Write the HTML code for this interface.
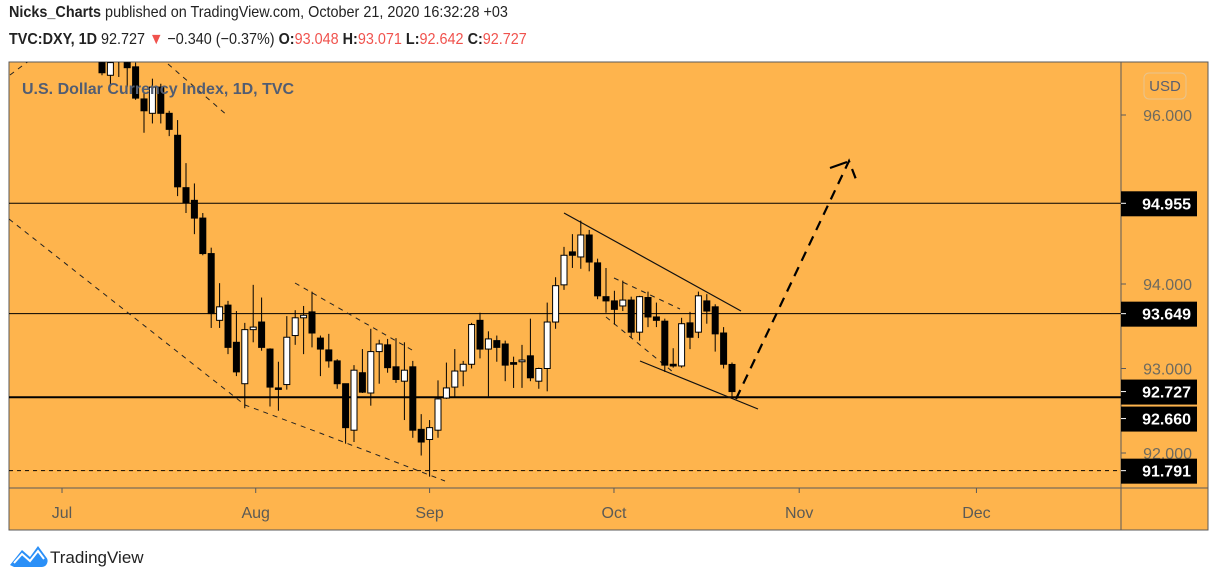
<!DOCTYPE html>
<html><head><meta charset="utf-8"><style>
body{margin:0;background:#fff;width:1218px;height:584px;overflow:hidden;font-family:"Liberation Sans",sans-serif;position:relative}
.hdr{position:absolute;left:9px;font-size:16px;color:#222;white-space:nowrap;transform:scaleX(0.9);transform-origin:0 0}
.r{color:#f0524d}
b{font-weight:bold}
</style></head><body>
<div class="hdr" style="top:4px"><b>Nicks_Charts</b> published on TradingView.com, October 21, 2020 16:32:28 +03</div>
<div class="hdr" style="top:31px"><b>TVC:DXY, 1D</b> 92.727 <span class="r">▼</span> −0.340 (−0.37%) <b>O:</b><span class="r">93.048</span> <b>H:</b><span class="r">93.071</span> <b>L:</b><span class="r">92.642</span> <b>C:</b><span class="r">92.727</span></div>
<svg id="c" width="1218" height="584" style="position:absolute;left:0;top:0"></svg>
<script>
const opens=[96.62,96.47,96.70,96.62,96.57,96.19,96.02,96.33,96.02,95.76,95.14,94.99,94.78,94.36,93.57,93.75,93.31,92.82,93.46,93.55,93.23,92.77,92.81,93.39,93.60,93.67,93.36,93.22,93.09,92.82,92.27,92.95,92.71,93.20,93.28,93.02,92.85,93.02,92.28,92.16,92.27,92.65,92.78,92.97,93.05,93.57,93.23,93.33,93.29,93.07,93.08,93.15,92.85,93.00,93.55,93.99,94.38,94.32,94.58,94.25,93.85,93.80,93.74,93.81,93.43,93.84,93.61,93.56,93.05,93.03,93.54,93.43,93.80,93.73,93.42,93.048];
const highs=[96.63,96.63,96.80,96.70,96.62,96.26,96.43,96.37,96.05,95.94,95.43,95.19,94.84,94.43,94.01,93.80,93.68,93.54,93.99,93.84,93.24,93.08,93.62,93.69,93.74,93.91,93.39,93.41,93.11,92.82,93.04,93.23,93.47,93.34,93.35,93.36,93.31,93.09,92.46,92.39,92.86,93.07,93.23,93.09,93.54,93.66,93.44,93.39,93.33,93.14,93.28,93.59,93.01,93.78,94.08,94.44,94.59,94.75,94.64,94.30,94.19,93.92,94.04,93.85,93.86,93.91,93.78,93.59,93.24,93.60,93.67,93.91,93.88,93.76,93.49,93.071];
const lows=[96.47,96.35,96.45,96.33,96.18,95.79,95.90,95.90,95.75,95.04,94.84,94.59,94.34,93.48,93.48,93.17,92.91,92.53,93.31,93.21,92.55,92.50,92.75,93.28,93.17,93.25,92.91,93.01,92.76,92.11,92.13,92.71,92.56,92.82,92.95,92.83,92.39,92.18,91.97,91.72,92.18,92.64,92.66,92.79,93.00,93.12,92.67,93.08,92.85,92.77,92.77,92.85,92.76,92.73,93.47,93.93,94.19,94.18,94.15,93.82,93.66,93.52,93.68,93.36,93.33,93.49,93.49,92.96,93.01,93.01,93.23,93.36,93.53,93.20,93.00,92.642];
const closes=[96.50,96.62,96.65,96.56,96.20,96.05,96.33,96.02,95.83,95.15,94.96,94.78,94.36,93.65,93.73,93.25,92.96,93.46,93.49,93.25,92.78,92.76,93.37,93.60,93.63,93.42,93.23,93.09,92.82,92.30,92.98,92.72,93.20,93.29,93.01,92.87,92.98,92.27,92.13,92.30,92.64,92.77,92.97,93.05,93.52,93.23,93.35,93.25,93.04,93.05,93.10,92.89,93.00,93.55,93.98,94.34,94.34,94.58,94.26,93.86,93.80,93.70,93.81,93.43,93.85,93.61,93.57,93.04,93.03,93.53,93.37,93.86,93.68,93.41,93.05,92.727];
const priceTicks=[96,94,93,92];
const levels=[94.955,93.649,92.66];
const badgeValues=[94.955,93.649,92.727,92.660,91.791];
const monthLabels=["Jul","Aug","Sep","Oct","Nov","Dec"];
const monthIndex=[-4.76,18.3,39.0,60.95,83.0,104.1];
const L=9,T=62,R=1121,B=488;
const y=p=>115+(96-p)*84.5;
const x=i=>102+i*8.4;
const NS="http://www.w3.org/2000/svg";
const svg=document.getElementById('c');
function mk(t,a,parent){const e=document.createElementNS(NS,t);for(const k in a)e.setAttribute(k,a[k]);(parent||svg).appendChild(e);return e;}
let e;
e=mk('rect',{x:9,y:62,width:1199,height:468,fill:'#feb44d',stroke:'#5a5a5a','stroke-width':1});

mk('line',{x1:1121,y1:62,x2:1121,y2:530,stroke:'#5a5a5a'});
mk('line',{x1:9,y1:488,x2:1208,y2:488,stroke:'#5a5a5a'});
const defs=mk('defs',{});const cp=mk('clipPath',{id:'pc'},defs);mk('rect',{x:L,y:T,width:R-L,height:B-T},cp);
const g=mk('g',{'clip-path':'url(#pc)'});
e=mk('text',{x:22,y:94,'font-size':16,'font-weight':'bold',fill:'#525d72'});e.textContent='U.S. Dollar Currency Index, 1D, TVC';

levels.forEach((p,i)=>{const l=mk('line',{x1:L,x2:R,y1:y(p),y2:y(p),stroke:'#000','stroke-width':i==2?2:1},g);
});
e=mk('line',{x1:L,x2:R,y1:y(91.791),y2:y(91.791),stroke:'#000','stroke-dasharray':'4 4'},g);

const dash={fill:'none',stroke:'#222','stroke-width':1,'stroke-dasharray':'5 5'};
[[[9,219],[245,405],[320,433],[445,481]],[[168,64],[228,116]],[[295,283],[412,350]],[[614,278],[680,309]],[[606,317],[673,372]],[[10,75],[30,60]]].forEach(pts=>{
 const pl=mk('polyline',Object.assign({points:pts.map(p=>p.join(',')).join(' ')},dash),g);
 });
[[[564,213],[741,311]],[[640,361],[758,409]]].forEach(p=>{const l=mk('line',{x1:p[0][0],y1:p[0][1],x2:p[1][0],y2:p[1][1],stroke:'#111','stroke-width':1.2},g);
 });
e=mk('polyline',{points:'736,399 849,161 857,182',fill:'none',stroke:'#000','stroke-width':2.2,'stroke-dasharray':'10 7'},g);

e=mk('line',{x1:830,y1:168,x2:847,y2:162,stroke:'#000','stroke-width':2.2},g);

opens.forEach((o,i)=>{const c=closes[i],cx=x(i);const up=c>=o;
 const gg=mk('g',{},g);
 
 mk('line',{x1:cx,x2:cx,y1:y(highs[i]),y2:y(lows[i]),stroke:'#000','stroke-width':1},gg);
 const top=y(Math.max(o,c)),h=Math.max(1.5,y(Math.min(o,c))-top);
 mk('rect',{x:cx-3,y:top,width:6,height:h,fill:up?'#fff':'#000',stroke:'#000','stroke-width':1},gg);});
priceTicks.forEach(p=>{mk('line',{x1:1121,x2:1126,y1:y(p),y2:y(p),stroke:'#5a5a5a'});
 const t=mk('text',{x:1192,y:y(p)+6,'font-size':16,'text-anchor':'end',fill:'#6d6a5f'});t.textContent=p.toFixed(3);
 });
const badgeY=[y(94.955),y(93.649),y(92.727),y(92.727)+27,y(91.791)];
badgeValues.forEach((v,i)=>{const by=badgeY[i];
 const r=mk('rect',{x:1121,y:by-12,width:76,height:25,fill:'#000'});
 
 mk('line',{x1:1121,x2:1126,y1:by,y2:by,stroke:'#fff'});
 const t=mk('text',{x:1191,y:by+6,'font-size':16,'font-weight':'bold','text-anchor':'end',fill:'#fff'});t.textContent=v.toFixed(3);});
e=mk('rect',{x:1144,y:73,width:42,height:26,rx:5,fill:'none',stroke:'#e8c48e'});

e=mk('text',{x:1165,y:91,'font-size':15,'text-anchor':'middle',fill:'#5a6070'});e.textContent='USD';
monthLabels.forEach((m,i)=>{const mx=x(monthIndex[i]);mk('line',{x1:mx,x2:mx,y1:488,y2:493,stroke:'#5a5a5a'});
 const t=mk('text',{x:mx,y:518,'font-size':16,'text-anchor':'middle',fill:'#5b5a55'});t.textContent=m;
 });
const lg=mk('g',{});
mk('path',{d:'M10 565 L22 550 L30 557 L38 546 L46 557 A6 6 0 0 1 42 567 L14 567 Z',fill:'#2a8ff7'},lg);
mk('path',{d:'M14 563 L22 554 L30 561 L38 551 L44 559',fill:'none',stroke:'#fff','stroke-width':2},lg);
e=mk('text',{x:50,y:563,'font-size':17,fill:'#222'},lg);e.textContent='TradingView';
</script>
</body></html>
